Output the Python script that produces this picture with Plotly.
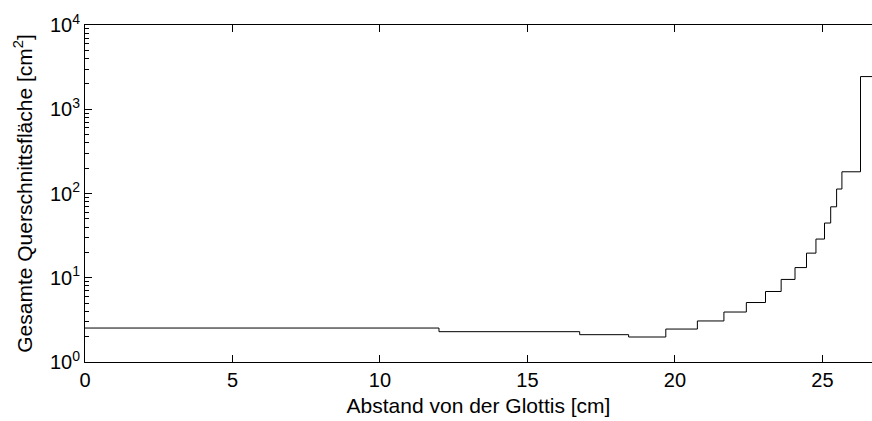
import plotly.graph_objects as go

# Step start positions along the tract [cm] and total cross-sectional area [cm^2]
x_start = [0.0, 12.0, 16.77, 18.43, 19.69, 20.76, 21.66, 22.42, 23.07, 23.60,
           24.07, 24.46, 24.78, 25.07, 25.28, 25.48, 25.66, 26.29, 26.9]
area = [2.53, 2.29, 2.11, 1.98, 2.46, 3.07, 3.92, 5.08, 6.87, 9.55,
        13.2, 19.6, 28.8, 44.6, 69.5, 113, 181, 2443, 2443]

x_ticks = [0, 5, 10, 15, 20, 25]
y_ticks = [1, 10, 100, 1000, 10000]
y_tick_text = ["10<sup>0</sup>", "10<sup>1</sup>", "10<sup>2</sup>", "10<sup>3</sup>", "10<sup>4</sup>"]

FONT = "Liberation Sans, Arial, Helvetica, sans-serif"

fig = go.Figure()
fig.add_trace(go.Scatter(
    x=x_start, y=area, mode="lines", line_shape="hv",
    line=dict(color="black", width=1), showlegend=False, hoverinfo="skip",
))

fig.update_layout(
    width=872, height=421,
    margin=dict(l=85, r=0, t=25, b=59),
    paper_bgcolor="white", plot_bgcolor="white",
    font=dict(family=FONT, size=20, color="black"),
    xaxis=dict(
        range=[0, 26.68], tickmode="array", tickvals=x_ticks,
        ticks="inside", ticklen=7, tickcolor="black", tickwidth=1,
        showline=True, linecolor="black", linewidth=1, mirror="ticks",
        showgrid=False, zeroline=False,
        title=dict(text="Abstand von der Glottis [cm]", standoff=8, font=dict(size=21)),
        tickfont=dict(size=20),
    ),
    yaxis=dict(
        type="log", range=[0, 4], tickmode="array", tickvals=y_ticks, ticktext=y_tick_text,
        ticks="inside", ticklen=7, tickcolor="black", tickwidth=1,
        showline=True, linecolor="black", linewidth=1, mirror=False,
        showgrid=False, zeroline=False,
        minor=dict(dtick="D1", ticks="inside", ticklen=4, tickcolor="black", showgrid=False),
        title=dict(text="Gesamte Querschnittsfläche [cm<sup>2</sup>]", standoff=11, font=dict(size=21)),
        tickfont=dict(size=20),
    ),
    yaxis2=dict(
        type="log", range=[0, 4], overlaying="y", side="right",
        tickmode="array", tickvals=y_ticks, showticklabels=False,
        ticks="inside", ticklen=3, tickcolor="black", tickwidth=1,
        showline=False, showgrid=False, zeroline=False,
    ),
)

fig.write_html("out.html")
